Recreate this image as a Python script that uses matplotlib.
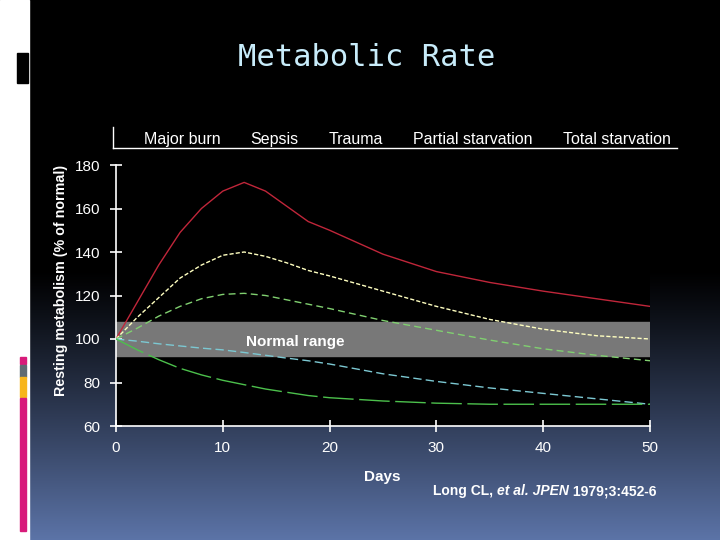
import numpy as np
import matplotlib
matplotlib.use("Agg")
from matplotlib import pyplot as plt
from matplotlib.patches import Rectangle
from matplotlib.lines import Line2D

plt.rcParams['font.family'] = ['Liberation Sans', 'DejaVu Sans']

# data (days, % of normal resting metabolism)
days = [0, 2, 4, 6, 8, 10, 12, 14, 16, 18, 20, 25, 30, 35, 40, 45, 50]
major_burn = [100, 117, 134, 149, 160, 168, 172, 168, 161, 154, 150, 139, 131, 126, 122, 118.5, 115]
sepsis = [100, 110, 119, 128, 134, 138.5, 140, 138, 135, 131.5, 129, 122, 115, 109, 104.5, 101.5, 100]
trauma = [100, 105, 110.5, 115, 118.5, 120.5, 121, 120, 118, 116, 114, 108.5, 104, 99.5, 95.5, 92.5, 90]
partial_starvation = [100, 99, 97.8, 96.8, 95.8, 95, 93.8, 92.5, 91.2, 90, 88.5, 84, 80.5, 77.5, 75, 72.5, 70]
total_starvation = [100, 95, 90.5, 86.5, 83.5, 81, 79, 77, 75.5, 74, 73, 71.5, 70.5, 70, 70, 70, 70]

labels = ["Major burn", "Sepsis", "Trauma", "Partial starvation", "Total starvation"]
normal_range = (92, 108)
x_ticks = [0, 10, 20, 30, 40, 50]
y_ticks = [60, 80, 100, 120, 140, 160, 180]

fig = plt.figure(figsize=(7.2, 5.4), dpi=100)

# slide background: black fading to blue toward the bottom
bg = fig.add_axes([0, 0, 1, 1])
bg.set_axis_off()
bg.set_xlim(0, 720)
bg.set_ylim(540, 0)
rows = np.arange(540)
t = np.clip((rows - 270) / 270.0, 0, 1) ** 1.1
bottom_col = np.array([92, 116, 168]) / 255.0
grad = (t[:, None] * bottom_col[None, :])[:, None, :].repeat(2, axis=1)
bg.imshow(grad, extent=[0, 720, 540, 0], aspect='auto', zorder=0)
bg.add_patch(Rectangle((0, 0), 29, 540, color='white', zorder=1))
bg.add_patch(Rectangle((17, 53), 11, 30, color='black', zorder=2))
bg.add_patch(Rectangle((20, 357), 6, 7, color='#d81b7a', zorder=2))
bg.add_patch(Rectangle((20, 365), 6, 12, color='#5f6b73', zorder=2))
bg.add_patch(Rectangle((20, 377), 6, 20, color='#f7b51c', zorder=2))
bg.add_patch(Rectangle((20, 398), 6, 133, color='#d81b7a', zorder=2))

ax = fig.add_axes([116 / 720, 1 - 426 / 540, 534 / 720, 261 / 540])
ax.set_facecolor('black')

ax.axhspan(normal_range[0], normal_range[1], xmin=0, xmax=1, color='#787878', zorder=1)
ax.text(12.2, 98.6, "Normal range", color='white', fontsize=11, fontweight='bold',
        va='center', ha='left', zorder=2)

ax.plot(days, major_burn, color='#c0263a', lw=1.0, label=labels[0], zorder=3)
ax.plot(days, sepsis, color='#ffffc0', lw=1.0, dashes=(3, 1.5), label=labels[1], zorder=3)
ax.plot(days, trauma, color='#80d070', lw=1.0, dashes=(5, 3), label=labels[2], zorder=3)
ax.plot(days, partial_starvation, color='#7cc8d2', lw=1.0, dashes=(6, 3), label=labels[3], zorder=3)
ax.plot(days, total_starvation, color='#4cc04c', lw=1.0, dashes=(22, 4), label=labels[4], zorder=3)

ax.set_xlim(0, 50)
ax.set_ylim(60, 180)
ax.set_xticks(x_ticks)
ax.set_yticks(y_ticks)
for side in ['top', 'right']:
    ax.spines[side].set_visible(False)
for side in ['left', 'bottom']:
    ax.spines[side].set_color('white')
    ax.spines[side].set_linewidth(1.2)
ax.tick_params(colors='white', labelsize=11, direction='inout', length=8, width=1.2, pad=7)

leg = ax.legend(ncol=5, loc='lower left', bbox_to_anchor=(144 / 720, 1 - 147 / 540),
                bbox_transform=fig.transFigure, frameon=False, handlelength=0,
                handletextpad=0, columnspacing=1.88, borderpad=0, borderaxespad=0,
                fontsize=11.5)
for h in leg.legend_handles:
    h.set_visible(False)
for txt in leg.get_texts():
    txt.set_color('white')

# bracket line under the legend
fig.add_artist(Line2D([113 / 720, 113 / 720], [1 - 127 / 540, 1 - 148 / 540], color='white', lw=1.0))
fig.add_artist(Line2D([113 / 720, 677 / 720], [1 - 148 / 540, 1 - 148 / 540], color='white', lw=1.0))

fig.text(367 / 720, 1 - 57 / 540, "Metabolic Rate", family='DejaVu Sans Mono', fontsize=22,
         color='#c8ecfa', ha='center', va='center')
fig.text(61 / 720, 1 - 280 / 540, "Resting metabolism (% of normal)", rotation=90, color='white',
         fontsize=10.3, fontweight='bold', ha='center', va='center')
fig.text(382 / 720, 1 - 477 / 540, "Days", color='white', fontsize=11, fontweight='bold',
         ha='center', va='center')

# citation, written piece by piece for the italic part
pieces = [("Long CL, ", 'normal'), ("et al. JPEN", 'italic'), (" 1979;3:452-6", 'normal')]
fig.canvas.draw()
renderer = fig.canvas.get_renderer()
x = 433 / 720
for s, style in pieces:
    tx = fig.text(x, 1 - 491 / 540, s, color='white', fontsize=10, fontweight='bold',
                  style=style, ha='left', va='center')
    x += tx.get_window_extent(renderer).width / 720

fig.savefig('out.png', dpi=100)
